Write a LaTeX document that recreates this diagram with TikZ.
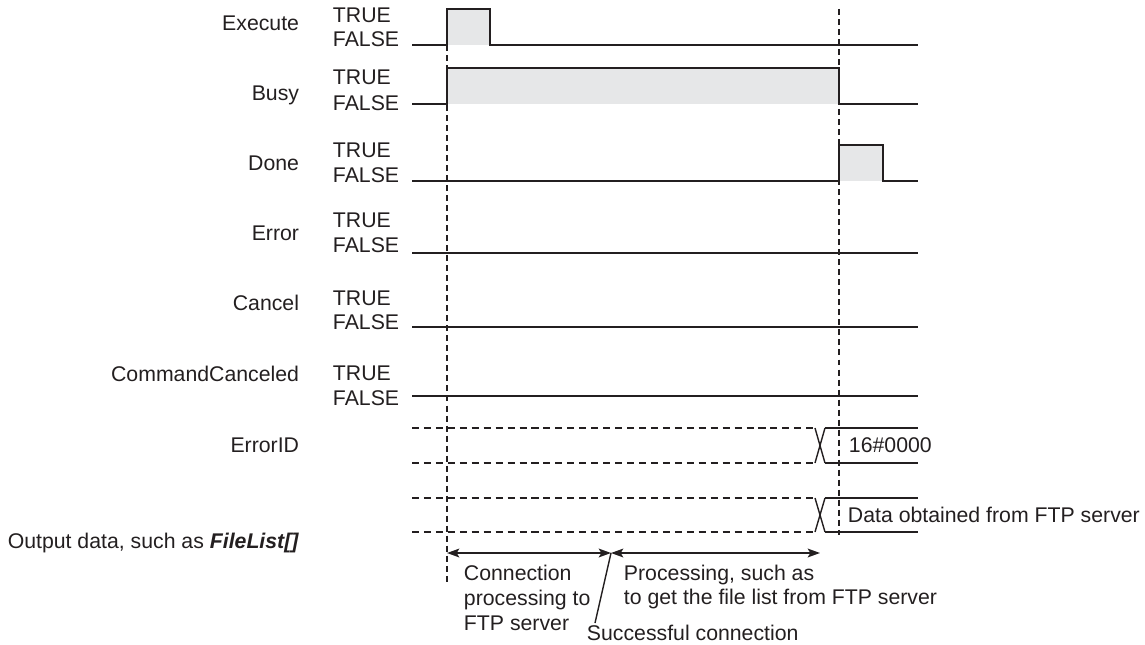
\documentclass[tikz,border=0pt]{standalone}
\usepackage{fontspec}
\setmainfont{Liberation Sans}
\usetikzlibrary{
  positioning,
  arrows,
  arrows.meta}
\definecolor{ink}{HTML}{231F20}
\definecolor{pulse}{HTML}{E6E7E8}

\begin{document}
\begin{tikzpicture}[
  x=0.02cm, y=-0.02cm,
  >={Stealth[length=7pt,width=5pt,inset=1.5pt]},
  line width=1.1pt,
  every node/.style={inner sep=0pt,text=ink,font=\fontsize{12.1pt}{14.17pt}\selectfont},
  row/.style={text height=8.7pt,text depth=0pt},
  signame/.style={row,anchor=east},
  level/.style={row,anchor=west},
  note/.style={anchor=west,align=left},
  sig/.style={draw=ink},
  hi/.style={fill=pulse},
  guide/.style={draw=ink,line width=0.8pt,dash pattern=on 3.4pt off 2.3pt},
  old/.style={draw=ink,line width=0.8pt,dash pattern=on 4pt off 2.8pt},
  span/.style={draw=ink,line width=0.9pt,<->}
]%
  \useasboundingbox (0,0) rectangle (1145,645);

  % signal names and levels
  \node[signame] (nExecute) at (300,23) {Execute};
  \node[level] (tExecute) at (332,15) {TRUE};
  \node[level] (fExecute) at (332,39) {FALSE};
  \node[signame] (nBusy) at (300,93) {Busy};
  \node[level] (tBusy) at (332,77) {TRUE};
  \node[level] (fBusy) at (332,103) {FALSE};
  \node[signame] (nDone) at (300,163) {Done};
  \node[level] (tDone) at (332,150) {TRUE};
  \node[level] (fDone) at (332,175) {FALSE};
  \node[signame] (nError) at (300,233) {Error};
  \node[level] (tError) at (332,220) {TRUE};
  \node[level] (fError) at (332,245) {FALSE};
  \node[signame] (nCancel) at (300,303) {Cancel};
  \node[level] (tCancel) at (332,298) {TRUE};
  \node[level] (fCancel) at (332,322) {FALSE};
  \node[signame] (nCmdCanceled) at (300,374) {CommandCanceled};
  \node[level] (tCmdCanceled) at (332,373) {TRUE};
  \node[level] (fCmdCanceled) at (332,398) {FALSE};
  \node[signame] (nErrorID) at (300,445) {ErrorID};
  \node[signame] (nOutput) at (300,541) {Output data, such as \textbf{\textit{FileList[]}}};

  % pulses
  \fill[hi] (447,9) rectangle (490,45);
  \fill[hi] (447,68) rectangle (839,104);
  \fill[hi] (839,145) rectangle (883,181);

  % timing guides
  \draw[guide] (447,45) -- (447,582);
  \draw[guide] (839,9) -- (839,535);

  \draw[sig] (412,45) -- (447,45) -- (447,9) -- (490,9) -- (490,45) -- (918,45);
  \draw[sig] (412,104) -- (447,104) |- (839,68) -- (839,104) -- (918,104);
  \draw[sig] (412,181) -- (839,181) |- (883,145) -- (883,181) -- (918,181);
  \draw[sig] (412,253) -- (918,253);
  \draw[sig] (412,327) -- (918,327);
  \draw[sig] (412,396) -- (918,396);

  % ErrorID and output data
  \draw[old] (412,428) -- (815,428) (412,463) -- (815,463);
  \draw[sig,line width=0.8pt] (815,428) -- (825,463) (815,463) -- (825,428);
  \draw[sig] (825,428) -- (918,428) (825,463) -- (918,463);
  \node[level] (vErrorID) at (848,445) {16\#0000};

  \draw[old] (412,498) -- (815,498) (412,532) -- (815,532);
  \draw[sig,line width=0.8pt] (815,498) -- (825,532) (815,532) -- (825,498);
  \draw[sig] (825,498) -- (918,498) (825,532) -- (918,532);
  \node[level] (vOutput) at (847,515) {Data obtained from FTP server};

  % phases
  \coordinate (cStart) at (447,553);
  \coordinate (cOk) at (611,553);
  \coordinate (cEnd) at (820,553);
  \draw[span] (cStart) -- (cOk);
  \draw[span] (cOk) -- (cEnd);
  \node[note] (tConnect) at (463,598) {Connection\\processing to\\FTP server};
  \node[note] (tProcess) at (623,587) {Processing, such as\\to get the file list from FTP server};
  \node[level] (tOk) at (586,633) {Successful connection};
  \coordinate (cOkFoot) at (595,623);
  \draw[draw=ink,line width=0.8pt] (cOk) -- (cOkFoot);
\end{tikzpicture}
\end{document}
